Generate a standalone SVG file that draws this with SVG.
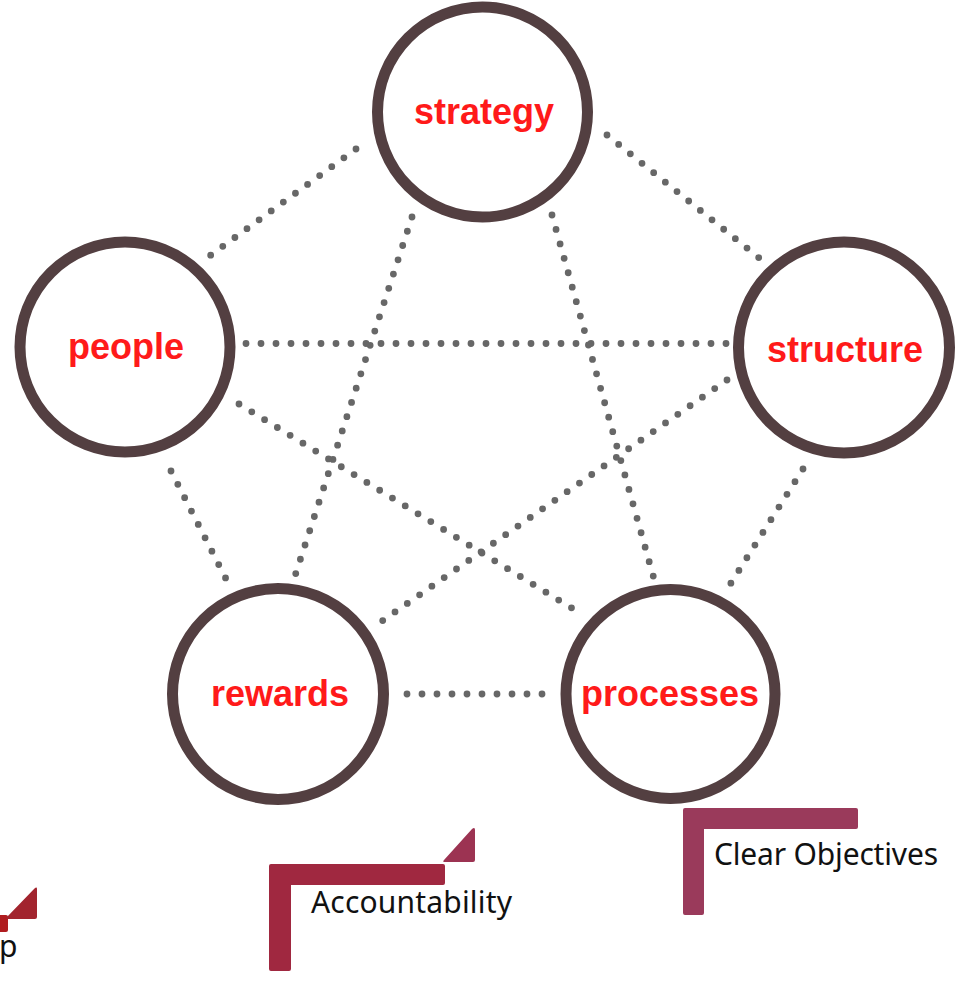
<svg xmlns="http://www.w3.org/2000/svg" width="959" height="994" viewBox="0 0 959 994">
  <style>
    .ring { fill: #ffffff; stroke: #533f41; stroke-width: 11; }
    .lbl { font-family: "Liberation Sans", Arial, sans-serif; font-weight: bold; font-size: 36px; fill: #ff1a1a; text-anchor: middle; }
    .dots line { stroke: #676767; stroke-width: 6.8; stroke-linecap: round; stroke-dasharray: 0 15; fill: none; }
    .cap { font-family: "Noto Sans", "Liberation Sans", sans-serif; font-size: 30px; fill: #111111; }
  </style>
  <rect width="959" height="994" fill="#ffffff"/>

  <!-- dotted links between the five elements (each a little past a whole dot step so the last dot shows) -->
  <g id="connectors" class="dots">
    <line x1="356" y1="149" x2="210" y2="255.7"/>
    <line x1="607" y1="135" x2="759" y2="257.8"/>
    <line x1="246" y1="343.5" x2="727.5" y2="343.5"/>
    <line x1="412" y1="217" x2="295.4" y2="574.6"/>
    <line x1="552" y1="215" x2="653.5" y2="577"/>
    <line x1="239" y1="404" x2="572.5" y2="608.5"/>
    <line x1="727" y1="380" x2="381.8" y2="621.2"/>
    <line x1="171" y1="471" x2="226" y2="578.8"/>
    <line x1="803" y1="469" x2="730.4" y2="583.9"/>
    <line x1="407" y1="694" x2="543.5" y2="694"/>
  </g>

  <g id="strategy">
    <circle class="ring" cx="482.5" cy="112" r="105"/>
    <text class="lbl" x="484" y="124">strategy</text>
  </g>
  <g id="people">
    <circle class="ring" cx="125" cy="347" r="105"/>
    <text class="lbl" x="126" y="359">people</text>
  </g>
  <g id="structure">
    <circle class="ring" cx="844" cy="347.5" r="105.5"/>
    <text class="lbl" x="845" y="362">structure</text>
  </g>
  <g id="rewards">
    <circle class="ring" cx="278" cy="694" r="105.5"/>
    <text class="lbl" x="280" y="706">rewards</text>
  </g>
  <g id="processes">
    <circle class="ring" cx="670.5" cy="694" r="104.5"/>
    <text class="lbl" x="670" y="706">processes</text>
  </g>

  <!-- corner-bracket captions -->
  <g id="caption-left">
    <rect x="-12" y="915" width="20" height="17" rx="2" fill="#b01c1f"/>
    <path d="M37 889 L37 917 Q37 919 35 919 L7 919 Q5 919 6.5 917.5 L34.5 888.5 Q37 886.5 37 889 Z" fill="#a2242e"/>
    <text class="cap" x="-1" y="957">p</text>
  </g>
  <g id="accountability">
    <path d="M271 864 L443 864 Q445 864 445 866 L445 883 Q445 885 443 885 L291 885 L291 969 Q291 971 289 971 L271 971 Q269 971 269 969 L269 866 Q269 864 271 864 Z" fill="#a02840"/>
    <path d="M475 830 L475 860 Q475 862 473 862 L445 862 Q442 862 444 860 L472 829 Q475 826.5 475 830 Z" fill="#9c3352"/>
    <text class="cap" x="311" y="913" textLength="201" lengthAdjust="spacing">Accountability</text>
  </g>
  <g id="clear-objectives">
    <path d="M685 808 L856 808 Q858 808 858 810 L858 827 Q858 829 856 829 L704 829 L704 913 Q704 915 702 915 L685 915 Q683 915 683 913 L683 810 Q683 808 685 808 Z" fill="#9a3a5b"/>
    <text class="cap" x="714" y="865" textLength="224" lengthAdjust="spacing">Clear Objectives</text>
  </g>
</svg>
